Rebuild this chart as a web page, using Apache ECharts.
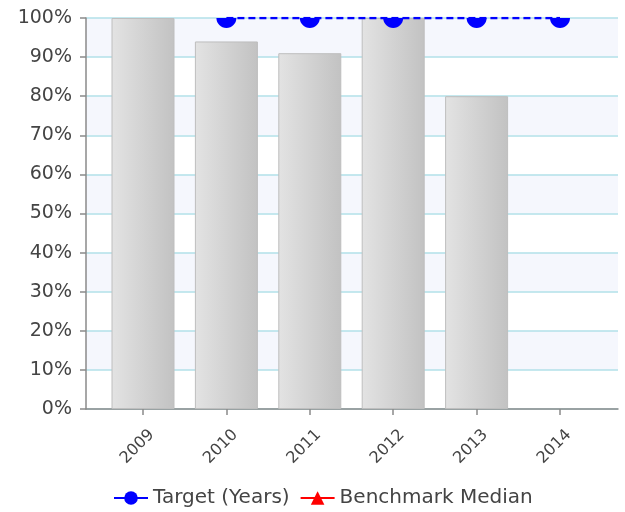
<!DOCTYPE html>
<html><head><meta charset="utf-8">
<script src="https://cdn.jsdelivr.net/npm/echarts@6/dist/echarts.min.js"></script>
<style>html,body{margin:0;padding:0;background:#fff}#c{width:625px;height:512px}</style>
</head><body><div id="c"></div>
<script>
var categories = ['2009','2010','2011','2012','2013','2014'];
var barValues = [100, 94, 91, 100, 80, null];
var targetValues = [null, 100, 100, 100, 100, 100];
var benchmarkValues = [null, null, null, null, null, null];
var yTicks = [0,10,20,30,40,50,60,70,80,90,100];

var FONT = 'DejaVu Sans';
var HALF_CIRCLE = 'path://M0,0 L20,0 C20,5.52 15.52,10 10,10 C4.48,10 0,5.52 0,0 Z';
var chart = echarts.init(document.getElementById('c'), null, {renderer:'canvas'});
chart.setOption({
  animation:false,
  textStyle:{fontFamily:FONT},
  grid:[
    {left:86, right:7, top:18, bottom:103},
    {left:101.3, right:23.3, top:18, bottom:103}
  ],
  xAxis:[
    {gridIndex:0, type:'value', min:0, max:1, axisLine:{show:true,onZero:false,lineStyle:{color:'#8a8a8a',width:1.5}},
     axisTick:{show:false}, axisLabel:{show:false}, splitLine:{show:false}},
    {gridIndex:1, type:'category', data:categories, boundaryGap:true,
     axisLine:{show:false}, axisTick:{show:true,alignWithLabel:true,length:6,lineStyle:{color:'#8a8a8a',width:1.5}},
     axisLabel:{rotate:45, align:'center', verticalAlign:'middle', margin:32, fontSize:16, color:'#444', fontFamily:FONT,
       padding:[0,16,0,0]}}
  ],
  yAxis:[
    {gridIndex:0, type:'value', min:yTicks[0], max:yTicks[yTicks.length-1], interval:10,
     axisLine:{show:true,lineStyle:{color:'#8a8a8a',width:1.5}},
     axisTick:{show:true,length:6,lineStyle:{color:'#8a8a8a',width:1.5}},
     axisLabel:{formatter:'{value}%', fontSize:19, color:'#444', margin:14, fontFamily:FONT},
     splitLine:{show:true,lineStyle:{color:'#b2e0e8',width:1.5}},
     splitArea:{show:true,areaStyle:{color:['#ffffff','#f5f7fd']}}},
    {gridIndex:1, type:'value', min:0, max:100, show:false}
  ],
  legend:{
    left:108, top:483, itemWidth:34, itemHeight:17, itemGap:10,
    lineStyle:{type:'solid'},
    textStyle:{fontSize:20, color:'#444', fontFamily:FONT},
    data:['Target (Years)','Benchmark Median']
  },
  series:[
    {name:'Actual', type:'bar', xAxisIndex:1, yAxisIndex:1, data:barValues, barWidth:63,
     itemStyle:{color:new echarts.graphic.LinearGradient(0,0,1,0,[{offset:0,color:'#e3e3e3'},{offset:1,color:'#c2c2c2'}]),
       borderColor:'#bebebe', borderWidth:1}},
    {name:'Target (Years)', type:'line', xAxisIndex:1, yAxisIndex:1, data:targetValues, z:10,
     symbol:'none',
     itemStyle:{color:'#0000ff'}, lineStyle:{color:'#0000ff', width:2.5, type:[7,4]}},
    {name:'Target markers', type:'scatter', xAxisIndex:1, yAxisIndex:1, data:targetValues, z:11,
     symbol:HALF_CIRCLE, symbolSize:[20,10], symbolOffset:[0,5], symbolKeepAspect:false,
     itemStyle:{color:'#0000ff', opacity:1}},
    {name:'Benchmark Median', type:'line', xAxisIndex:1, yAxisIndex:1, data:benchmarkValues,
     symbol:'triangle', symbolSize:14, itemStyle:{color:'#ff0000'}, lineStyle:{color:'#ff0000', width:2.5}}
  ]
});
</script></body></html>
